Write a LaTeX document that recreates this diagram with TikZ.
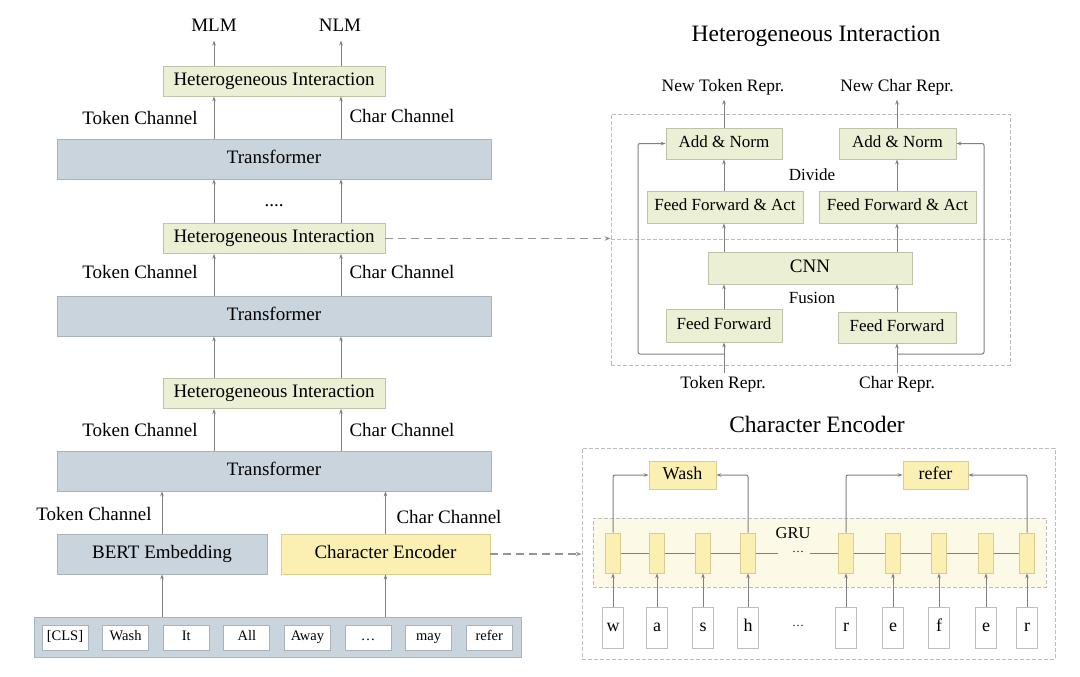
\documentclass[tikz,border=0pt]{standalone}
\usepackage{fontspec}
\setmainfont{Liberation Serif}
\usetikzlibrary{arrows.meta,calc}
\definecolor{hiF}{HTML}{EBEFD3}
\definecolor{hiD}{HTML}{BFC3AA}
\definecolor{trF}{HTML}{C9D4DC}
\definecolor{trD}{HTML}{A8B3BB}
\definecolor{ceF}{HTML}{FBF0B2}
\definecolor{ceD}{HTML}{D8CE92}
\definecolor{gruF}{HTML}{FCFAE6}
\definecolor{lineC}{HTML}{808080}
\definecolor{dashC}{HTML}{959595}
\definecolor{frameC}{HTML}{BDBDBD}
\begin{document}
\begin{tikzpicture}[x=1pt,y=-1pt,
  base/.style={inner sep=0pt, line width=0.8pt, align=center},
  f19/.style={font=\fontsize{19}{22}\selectfont, text height=12.9pt, text depth=4.2pt},
  f17/.style={font=\fontsize{17}{20}\selectfont, text height=11.6pt, text depth=3.7pt},
  f18/.style={font=\fontsize{18}{21}\selectfont, text height=12.2pt, text depth=4pt},
  f145/.style={font=\fontsize{14.5}{17}\selectfont, text height=9.9pt, text depth=3.2pt},
  hi/.style={base, f19, fill=hiF, draw=hiD, minimum width=222pt, minimum height=30pt},
  tr/.style={base, f19, fill=trF, draw=trD, minimum width=434pt, minimum height=40pt},
  cebox/.style={base, f19, fill=ceF, draw=ceD, minimum height=40pt},
  lbl/.style={inner sep=1pt, font=\fontsize{19}{22}\selectfont},
  rlbl/.style={inner sep=1pt, font=\fontsize{17.5}{20}\selectfont},
  ttl/.style={inner sep=1pt, font=\fontsize{23.5}{27}\selectfont},
  rb/.style={base, f17, fill=hiF, draw=hiD},
  tok/.style={base, f145, fill=white, draw=trD, minimum width=46pt, minimum height=25pt},
  cell/.style={inner sep=0pt, line width=0.8pt, fill=ceF, draw=ceD, minimum width=15pt, minimum height=40pt},
  chr/.style={base, f18, fill=white, draw=frameC, minimum width=21pt, minimum height=41pt},
  frame/.style={draw=frameC, line width=0.8pt, dash pattern=on 4pt off 2pt, inner sep=0pt},
  arr/.style={draw=lineC, line width=1pt, -{Stealth[length=5pt,width=3.6pt]}},
  thin/.style={draw=lineC, line width=0.8pt},
  darr/.style={draw=dashC, line width=1.4pt, dash pattern=on 8pt off 5pt, -{Stealth[length=6pt,width=4.5pt]}}
]
\useasboundingbox (0,0) rectangle (1080,677);
\fill[white] (0,0) rectangle (1080,677);

% ---------------- left column ----------------
\coordinate (tx) at (214,0);
\coordinate (cx) at (341,0);
\node[lbl] (mlm) at (214,25) {MLM};
\node[lbl] (nlm) at (340,25) {NLM};
\node[hi] (hi1) at (274,81) {Heterogeneous Interaction};
\node[lbl] (tc1) at (140,118) {Token Channel};
\node[lbl] (cc1) at (402,116) {Char Channel};
\node[tr] (tr1) at (274,159) {Transformer};
\node[lbl] (dots) at (274,206) {....};
\node[hi] (hi2) at (274,238.5) {Heterogeneous Interaction};
\node[lbl] (tc2) at (140,272) {Token Channel};
\node[lbl] (cc2) at (402,272) {Char Channel};
\node[tr] (tr2) at (274,316) {Transformer};
\node[hi] (hi3) at (274,393.5) {Heterogeneous Interaction};
\node[lbl] (tc3) at (140,430) {Token Channel};
\node[lbl] (cc3) at (402,430) {Char Channel};
\node[tr] (tr3) at (274,471) {Transformer};
\node[tr, minimum width=210pt] (bert) at (162,554) {BERT Embedding};
\node[cebox, minimum width=209pt] (ce) at (385.5,554) {Character Encoder};
\node[lbl] (tcb) at (94,514) {Token Channel};
\node[lbl] (ccb) at (449,517) {Char Channel};
\node[inner sep=0pt, line width=0.8pt, fill=trF, draw=trD, minimum width=487pt, minimum height=40pt] (cont) at (277.5,637) {};
\foreach \t [count=\i from 0] in {{[CLS]},Wash,It,All,Away,…,may,refer}
  \node[tok] (tok\i) at ({65+60.6*\i},637.5) {\t};

\draw[arr] (hi1.north -| tx) -- ++(0,-25);
\draw[arr] (hi1.north -| cx) -- ++(0,-25);
\draw[arr] (tr1.north -| tx) -- (hi1.south -| tx);
\draw[arr] (tr1.north -| cx) -- (hi1.south -| cx);
\draw[arr] (hi2.north -| tx) -- (tr1.south -| tx);
\draw[arr] (hi2.north -| cx) -- (tr1.south -| cx);
\draw[arr] (tr2.north -| tx) -- (hi2.south -| tx);
\draw[arr] (tr2.north -| cx) -- (hi2.south -| cx);
\draw[arr] (hi3.north -| tx) -- (tr2.south -| tx);
\draw[arr] (hi3.north -| cx) -- (tr2.south -| cx);
\draw[arr] (tr3.north -| tx) -- (hi3.south -| tx);
\draw[arr] (tr3.north -| cx) -- (hi3.south -| cx);
\draw[arr] (bert.north) -- (bert.north |- tr3.south);
\draw[arr] (ce.north) -- (ce.north |- tr3.south);
\draw[arr] (cont.north -| bert) -- (bert.south);
\draw[arr] (cont.north -| ce) -- (ce.south);

% ---------------- Heterogeneous Interaction detail ----------------
\node[ttl] (hititle) at (816,36) {Heterogeneous Interaction};
\node[frame, minimum width=399pt, minimum height=251pt] (hib) at (810.5,239.5) {};
\draw[draw=frameC, line width=0.8pt, dash pattern=on 4pt off 2pt] (hib.west) -- (hib.east);
\node[rlbl] (newtok) at (723,87) {New Token Repr.};
\node[rlbl] (newchar) at (897,87) {New Char Repr.};
\node[rb, minimum width=116pt, minimum height=31pt] (an1) at (724,143.5) {Add \& Norm};
\node[rb, minimum width=117pt, minimum height=31pt] (an2) at (897.5,143.5) {Add \& Norm};
\node[rlbl, font=\fontsize{17}{20}\selectfont] (divide) at (812,175) {Divide};
\node[rb, minimum width=156pt, minimum height=32pt] (ffa1) at (725,207) {Feed Forward \& Act};
\node[rb, minimum width=157pt, minimum height=32pt] (ffa2) at (897.5,207) {Feed Forward \& Act};
\node[rb, f19, minimum width=204pt, minimum height=32pt] (cnn) at (810,268) {CNN};
\node[rlbl, font=\fontsize{17}{20}\selectfont] (fusion) at (812,298) {Fusion};
\node[rb, minimum width=116pt, minimum height=33pt] (ff1) at (724,325.5) {Feed Forward};
\node[rb, minimum width=118pt, minimum height=31pt] (ff2) at (897,327.5) {Feed Forward};
\node[rlbl] (tokrepr) at (723,384) {Token Repr.};
\node[rlbl] (charrepr) at (897,384) {Char Repr.};

\coordinate (lx) at (724,0);
\coordinate (rx) at (897,0);
\coordinate (lin) at (724,373);
\coordinate (rin) at (897,373);
\coordinate (lres) at (724,354);
\coordinate (rres) at (897,354);
\draw[arr] (lin) -- (ff1.south -| lx);
\draw[arr] (rin) -- (ff2.south -| rx);
\draw[arr] (ff1.north -| lx) -- (cnn.south -| lx);
\draw[arr] (ff2.north -| rx) -- (cnn.south -| rx);
\draw[arr] (cnn.north -| lx) -- (ffa1.south -| lx);
\draw[arr] (cnn.north -| rx) -- (ffa2.south -| rx);
\draw[arr] (ffa1.north -| lx) -- (an1.south -| lx);
\draw[arr] (ffa2.north -| rx) -- (an2.south -| rx);
\draw[arr] (an1.north -| lx) -- ++(0,-28);
\draw[arr] (an2.north -| rx) -- ++(0,-28);
\draw[arr, rounded corners=2pt] (lres) -- ++(-86,0) |- (an1.west);
\draw[arr, rounded corners=2pt] (rres) -- ++(87,0) |- (an2.east);

% ---------------- Character Encoder detail ----------------
\node[ttl] (cetitle) at (817,424) {Character Encoder};
\node[frame, minimum width=473pt, minimum height=211pt] (ceb) at (818.5,553.5) {};
\node[frame, fill=gruF, minimum width=453pt, minimum height=69pt] (grub) at (819.5,552.5) {};
\node[inner sep=1pt, font=\fontsize{16.5}{19}\selectfont] (gru) at (793,533) {GRU};
\node[inner sep=1pt, font=\fontsize{12}{14}\selectfont] (gdots) at (798,552) {…};
\node[inner sep=1pt, font=\fontsize{12}{14}\selectfont] (cdots) at (798,626) {…};
\foreach \x/\c [count=\i] in {613/w,657/a,703/s,748/h,846/r,893/e,939/f,986/e,1027/r}{
  \node[cell] (g\i) at (\x,553) {};
  \node[chr] (c\i) at (\x,627.5) {\c};
}
\foreach \i in {1,...,9} \draw[arr, line width=0.8pt] (c\i.north) -- (g\i.south);
\foreach \a/\b in {1/2,2/3,3/4,5/6,6/7,7/8,8/9} \draw[thin] (g\a.east) -- (g\b.west);
\draw[thin] (g4.east) -- ++(22,0);
\draw[thin] (g5.west) -- ++(-28,0);
\node[cebox, f18, minimum width=67pt, minimum height=28pt] (wash) at (682.5,475) {Wash};
\node[cebox, f18, minimum width=65pt, minimum height=28pt] (refer) at (935.5,475) {refer};
\draw[arr, rounded corners=2pt] (g1.north) |- (wash.west);
\draw[arr, rounded corners=2pt] (g4.north) |- (wash.east);
\draw[arr, rounded corners=2pt] (g5.north) |- (refer.west);
\draw[arr, rounded corners=2pt] (g9.north) |- (refer.east);

% ---------------- dashed links ----------------
\draw[darr] (hi2.east) -- (hi2.east -| hib.west);
\draw[darr] (ce.east) -- (ce.east -| ceb.west);
\end{tikzpicture}
\end{document}
